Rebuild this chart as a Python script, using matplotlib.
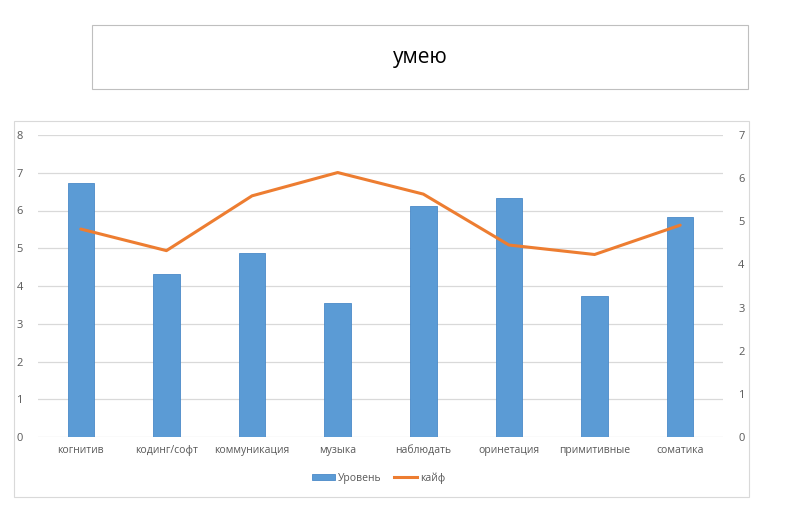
import matplotlib
matplotlib.use("Agg")
import matplotlib.pyplot as plt
from matplotlib.patches import Rectangle, Patch
from matplotlib.lines import Line2D

categories = ["когнитив", "кодинг/софт", "коммуникация", "музыка",
              "наблюдать", "оринетация", "примитивные", "соматика"]
uroven = [6.74, 4.32, 4.87, 3.55, 6.13, 6.34, 3.74, 5.83]
kaif = [4.82, 4.32, 5.59, 6.13, 5.63, 4.45, 4.23, 4.91]
left_ticks = [0, 1, 2, 3, 4, 5, 6, 7, 8]
right_ticks = [0, 1, 2, 3, 4, 5, 6, 7]

BAR = "#5B9BD5"
LINE = "#ED7D31"
GRID = "#D9D9D9"
TXT = "#595959"
FONT = ["Open Sans", "DejaVu Sans"]

plt.rcParams['font.family'] = FONT

fig = plt.figure(figsize=(8.0, 5.24), dpi=100)
W, H = 800, 524

def fx(x): return x / W
def fy(y): return 1 - y / H

# title box
fig.patches.append(Rectangle((fx(92), fy(89)), fx(748) - fx(92), fy(25) - fy(89),
                             transform=fig.transFigure, fill=False,
                             edgecolor="#BFBFBF", linewidth=0.8))
fig.text(fx(420), fy(58), "умею", ha="center", va="center", fontsize=15, color="black")

# chart area border
fig.patches.append(Rectangle((fx(14), fy(497)), fx(749) - fx(14), fy(121) - fy(497),
                             transform=fig.transFigure, fill=False,
                             edgecolor="#D9D9D9", linewidth=0.8))

ax = fig.add_axes([fx(38), fy(437), fx(723) - fx(38), fy(135) - fy(437)])
x = list(range(len(categories)))
ax.bar(x, uroven, width=0.31, color=BAR, edgecolor="#4A8AC8", linewidth=0.6, zorder=2)
ax.set_ylim(0, 8)
ax.set_yticks(left_ticks)
ax.set_xlim(-0.5, len(categories) - 0.5)
ax.set_xticks(x)
ax.set_xticklabels(categories)
ax.grid(axis="y", color=GRID, linewidth=0.9, zorder=0)
ax.set_axisbelow(True)
for s in ax.spines.values():
    s.set_visible(False)
ax.tick_params(axis="x", length=0, colors=TXT, labelsize=7.5, pad=6)
ax.tick_params(axis="y", length=0, colors=TXT, labelsize=8, pad=11)

ax2 = ax.twinx()
ax2.plot(x, kaif, color=LINE, linewidth=2.2, zorder=3, solid_capstyle="round")
ax2.set_ylim(0, 7)
ax2.set_yticks(right_ticks)
for s in ax2.spines.values():
    s.set_visible(False)
ax2.tick_params(axis="y", length=0, colors=TXT, labelsize=8, pad=11)

handles = [Patch(facecolor=BAR, edgecolor="#4A8AC8", linewidth=0.6),
           Line2D([0], [0], color=LINE, linewidth=2.2)]
fig.legend(handles, ["Уровень", "кайф"], loc="center", bbox_to_anchor=(fx(379), fy(478)),
           ncol=2, frameon=False, fontsize=7.5, labelcolor=TXT,
           handlelength=2.2, handleheight=0.5, handletextpad=0.3, columnspacing=1.2)

fig.savefig("out.png", dpi=100, facecolor="white")
